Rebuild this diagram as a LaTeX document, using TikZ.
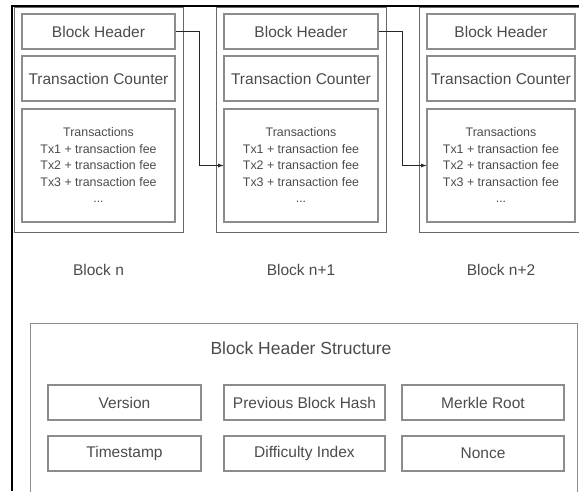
\documentclass[tikz,border=0pt]{standalone}
\usepackage{fontspec}
\setmainfont{Liberation Sans}
\usetikzlibrary{positioning}
\definecolor{linegray}{RGB}{140,140,140}
\definecolor{framegray}{RGB}{105,105,105}
\definecolor{textgray}{RGB}{75,75,75}
\tikzset{
  blockbox/.style={draw=framegray,line width=0.9pt,inner sep=0pt},
  part/.style={draw=linegray,line width=1.2pt,inner sep=0pt,text=textgray,
    font=\fontsize{15.5}{18}\selectfont},
  txlist/.style={part,align=center,font=\fontsize{12.4}{16.5}\selectfont},
  blocklabel/.style={text=textgray,font=\fontsize{15.5}{18}\selectfont},
  conn/.style={-latex,draw=black!85,line width=0.8pt}
}

\begin{document}
\begin{tikzpicture}[x=1pt,y=-1pt]
\useasboundingbox (0,0) rectangle (579,491);
\clip (0,0) rectangle (579,491);

    % outer frame
    \draw[line width=1.8pt] (12,491) -- (12,6) -- (579,6);

    % blocks
	\foreach \b/\cx/\w/\lab in {0/98.5/153/n,1/301/154/n+1,2/501/148/n+2} {
		\node[blockbox,minimum width=\w pt+16pt,minimum height=225pt] (block\b) at (\cx,119.5) {};
		\node[part,minimum width=\w pt,minimum height=35pt] (header\b) at (\cx,31.5) {Block Header};
		\node[part,minimum width=\w pt,minimum height=45pt] (counter\b) at (\cx,78.5) {Transaction Counter};
		\node[txlist,minimum width=\w pt,minimum height=113pt] (txs\b) at (\cx,165.5)
			{Transactions\\Tx1 + transaction fee\\Tx2 + transaction fee\\Tx3 + transaction fee\\...};
		\node[blocklabel] (name\b) at (\cx,270) {Block \lab};
	}

    % header links
	\foreach \i/\j in {0/1,1/2} \draw[conn] (header\i.east) -- ++(24,0) |- (txs\j.west);

    % header structure
    \node[blockbox,draw=linegray,line width=1.2pt,anchor=north west,minimum width=547pt,minimum height=200pt] (hstruct) at (30,323) {};
    \node[blocklabel,font=\fontsize{17.5}{20}\selectfont] (htitle) at (301,348) {Block Header Structure};
	\foreach \f/\cx/\cy/\w [count=\k] in {Version/124.5/402.5/153,Previous Block Hash/304.5/402.5/161,Merkle Root/483/402.5/162,
		Timestamp/124.5/453.5/153,Difficulty Index/304.5/453.5/161,Nonce/483/453.5/162}
		\node[part,minimum width=\w pt,minimum height=35pt] (field\k) at (\cx,\cy) {\f};
\end{tikzpicture}
\end{document}
